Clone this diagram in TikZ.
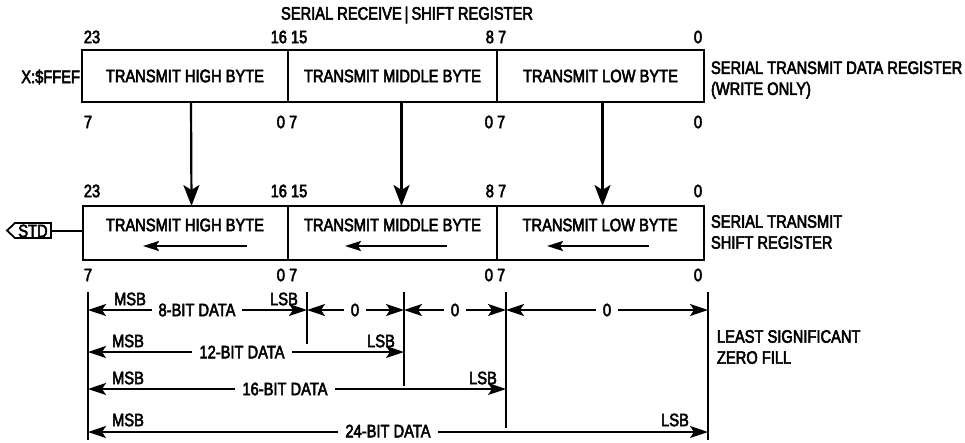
\documentclass[tikz,border=0pt]{standalone}
\usepackage{fontspec}
\setmainfont{Liberation Sans}[FakeStretch=0.815,FakeBold=3]
\usetikzlibrary{arrows.meta}
\begin{document}
\begin{tikzpicture}[x=1pt,y=-1pt,
  every node/.style={font=\fontsize{18}{21}\selectfont, inner sep=0pt, outer sep=0pt},
  cell/.style={draw, line width=2.2pt},
  topcell/.style={cell, minimum height=52pt},
  botcell/.style={cell, minimum height=54pt},
  dimline/.style={line width=2pt},
  dimarrow/.style={line width=2pt, {Stealth[length=18pt,width=12pt,inset=4pt]}-{Stealth[length=18pt,width=12pt,inset=4pt]}},
  dimtext/.style={fill=white, inner xsep=7pt, inner ysep=1pt},
  xferarrow/.style={line width=2.2pt, -{Stealth[length=21pt,width=16pt,inset=5pt]}},
  shiftarrow/.style={line width=2.2pt, {Stealth[length=16pt,width=10pt,inset=3pt]}-},
  side/.style={anchor=west, align=left}
]
\useasboundingbox (0,0) rectangle (965,442);

% title
\node (title) at (407,15) {SERIAL RECEIVE\,|\,SHIFT REGISTER};

% top register
\node[topcell, minimum width=206pt] (tA) at (185,76) {TRANSMIT HIGH BYTE};
\node[topcell, minimum width=209pt] (tB) at (392.5,76) {TRANSMIT MIDDLE BYTE};
\node[topcell, minimum width=207pt] (tC) at (600.5,76) {TRANSMIT LOW BYTE};
\node[anchor=east] (addr) at (80,77) {X:\$FFEF};
\node[side] (tdr) at (711,80) {SERIAL TRANSMIT DATA REGISTER\\(WRITE ONLY)};

% top bit numbers
\node (n23a) at (92,37) {23};
\node (n1615a) at (289,37) {16 15};
\node (n87a) at (496,37) {8 7};
\node (n0a) at (698,37) {0};
\node (n7b) at (88,122) {7};
\node (n07b) at (287,122) {0 7};
\node (n07c) at (495,122) {0 7};
\node (n0b) at (698,122) {0};

% bottom register
\node[botcell, minimum width=205pt] (bA) at (185.5,233) {};
\node[botcell, minimum width=209pt] (bB) at (392.5,233) {};
\node[botcell, minimum width=207pt] (bC) at (600.5,233) {};
\node (bAt) at (185,225) {TRANSMIT HIGH BYTE};
\node (bBt) at (392.5,225) {TRANSMIT MIDDLE BYTE};
\node (bCt) at (600,225) {TRANSMIT LOW BYTE};
\node[side] (tsr) at (711,232) {SERIAL TRANSMIT\\SHIFT REGISTER};

% shift arrows inside
\coordinate (sA1) at (143,246); \coordinate (sA2) at (247,246);
\coordinate (sB1) at (345,246); \coordinate (sB2) at (447,246);
\coordinate (sC1) at (547,246); \coordinate (sC2) at (649,246);
\draw[shiftarrow] (sA1) -- (sA2);
\draw[shiftarrow] (sB1) -- (sB2);
\draw[shiftarrow] (sC1) -- (sC2);

% bottom bit numbers
\node (m23a) at (92,191) {23};
\node (m1615a) at (289,191) {16 15};
\node (m87a) at (496,191) {8 7};
\node (m0a) at (698,191) {0};
\node (m7b) at (88,275) {7};
\node (m07b) at (287,275) {0 7};
\node (m07c) at (495,275) {0 7};
\node (m0b) at (698,275) {0};

% transfer arrows
\draw[xferarrow] ([xshift=6pt]tA.south) -- ([xshift=6pt]bA.north);
\draw[xferarrow] ([xshift=9pt]tB.south) -- ([xshift=9pt]bB.north);
\draw[xferarrow] ([xshift=2pt]tC.south) -- ([xshift=2pt]bC.north);

% STD output
\draw[line width=1.8pt] (7,230.5) -- (15,223) -- (51,223) -- (51,238) -- (15,238) -- cycle;
\node (std) at (33,231) {STD};
\coordinate (stdr) at (51,230.5);
\draw[line width=2pt] (stdr) -- (stdr -| bA.west);

% dimension guide lines
\coordinate (g0t) at (88,292); \coordinate (g0b) at (88,440);
\coordinate (g1t) at (307,292); \coordinate (g1b) at (307,344);
\coordinate (g2t) at (404,292); \coordinate (g2b) at (404,386);
\coordinate (g3t) at (506,292); \coordinate (g3b) at (506,428);
\coordinate (g4t) at (708,292); \coordinate (g4b) at (708,440);
\draw[dimline] (g0t) -- (g0b);
\draw[dimline] (g1t) -- (g1b);
\draw[dimline] (g2t) -- (g2b);
\draw[dimline] (g3t) -- (g3b);
\draw[dimline] (g4t) -- (g4b);

\coordinate (r1) at (0,310);
\coordinate (r2) at (0,352);
\coordinate (r3) at (0,389);
\coordinate (r4) at (0,432);

% row 1
\draw[dimarrow] (g0t |- r1) -- (g1t |- r1);
\node[dimtext] (d8) at (197,310) {8-BIT DATA};
\node (msb1) at (130,299) {MSB};
\node (lsb1) at (284,299) {LSB};
\draw[dimarrow] (g1t |- r1) -- (g2t |- r1);
\node[dimtext] (z1) at (355,310) {0};
\draw[dimarrow] (g2t |- r1) -- (g3t |- r1);
\node[dimtext] (z2) at (455,310) {0};
\draw[dimarrow] (g3t |- r1) -- (g4t |- r1);
\node[dimtext] (z3) at (607,310) {0};
\node[side] (lszf) at (717,347) {LEAST SIGNIFICANT\\ZERO FILL};

% row 2
\draw[dimarrow] (g0t |- r2) -- (g2t |- r2);
\node[dimtext] (d12) at (242,352) {12-BIT DATA};
\node (msb2) at (128,341) {MSB};
\node (lsb2) at (381,341) {LSB};

% row 3
\draw[dimarrow] (g0t |- r3) -- (g3t |- r3);
\node[dimtext] (d16) at (285,389) {16-BIT DATA};
\node (msb3) at (128,378) {MSB};
\node (lsb3) at (483,378) {LSB};

% row 4
\draw[dimarrow] (g0t |- r4) -- (g4t |- r4);
\node[dimtext] (d24) at (388,431) {24-BIT DATA};
\node (msb4) at (128,420) {MSB};
\node (lsb4) at (675,420) {LSB};
\end{tikzpicture}
\end{document}
